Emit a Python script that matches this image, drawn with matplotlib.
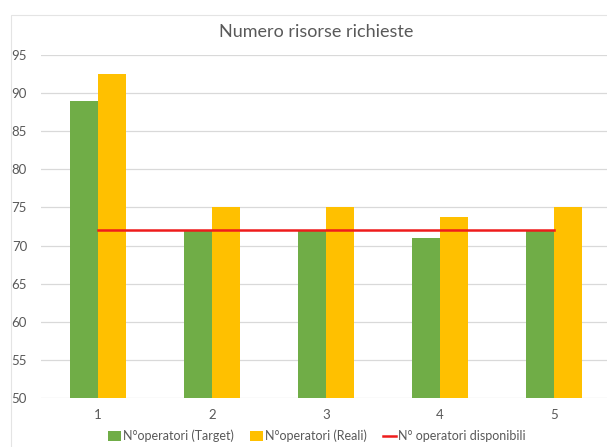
import matplotlib
matplotlib.use("Agg")
import matplotlib.pyplot as plt
from matplotlib.patches import Rectangle
import numpy as np

plt.rcParams['font.family'] = ['Lato', 'DejaVu Sans']

# chart data
categories = ['1', '2', '3', '4', '5']
target = [89, 72, 72, 71, 72]
reali = [92.5, 75, 75, 73.8, 75]
disponibili = [72, 72, 72, 72, 72]

GREEN = '#70AD47'
YELLOW = '#FFC000'
RED = '#EE1C1C'
TEXT = '#595959'
GRID = '#D9D9D9'

fig = plt.figure(figsize=(6.07, 4.47), dpi=100)
fig.patch.set_facecolor('white')

# chart frame, like the excel chart area border
fig.patches.append(Rectangle((11 / 607, -0.05), 1.2, 1 - 15 / 447 + 0.05,
                             transform=fig.transFigure, fill=False,
                             edgecolor='#E4E4E4', linewidth=0.8))

ax = fig.add_axes([41 / 607, 1 - 398 / 447, 570 / 607, 343 / 447])

x = np.arange(1, len(categories) + 1)
w = 0.245
b1 = ax.bar(x - w / 2, target, width=w, color=GREEN, label='N°operatori (Target)', zorder=2)
b2 = ax.bar(x + w / 2, reali, width=w, color=YELLOW, label='N°operatori (Reali)', zorder=2)
ln, = ax.plot(x, disponibili, color=RED, linewidth=1.8, label='N° operatori disponibili', zorder=3)

ax.set_xlim(0.5, 5.5)
ax.set_ylim(50, 95)
ax.set_yticks(np.arange(50, 96, 5))
ax.set_xticks(x)
ax.set_xticklabels(categories)
ax.yaxis.grid(True, color=GRID, linewidth=0.9, zorder=0)
ax.set_axisbelow(True)
for s in ax.spines.values():
    s.set_visible(False)
ax.tick_params(length=0, colors=TEXT, labelsize=9.5)
ax.tick_params(axis='y', pad=10)
ax.tick_params(axis='x', pad=8)

fig.text(316 / 607, 1 - 32 / 447, 'Numero risorse richieste', ha='center', va='center',
         fontsize=13, color=TEXT)

fig.legend(handles=[b1, b2, ln], loc='center', bbox_to_anchor=(317 / 607, 1 - 436 / 447),
           ncol=3, frameon=False, fontsize=9, handlelength=1.0, handleheight=0.9,
           handletextpad=0.2, columnspacing=1.3, labelcolor=TEXT)

fig.savefig('out.png', dpi=100)
